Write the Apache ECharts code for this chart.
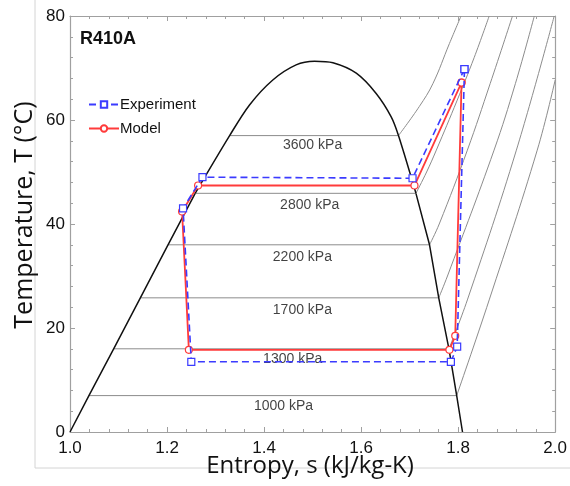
<!DOCTYPE html>
<html><head><meta charset="utf-8">
<script src="https://cdn.jsdelivr.net/npm/echarts@6/dist/echarts.min.js"></script>
<style>html,body{margin:0;padding:0;background:#fff}#c{width:570px;height:486px}</style>
</head><body><div id="c"></div>
<script>
// ---- Data (entropy s in kJ/kg-K, temperature T in °C) ----
// saturation dome: liquid side (straight), top arc (smooth), vapour side (straight)
const domeLiqS = [1.000, 1.039, 1.090, 1.145, 1.202, 1.258];
const domeLiqT = [0.0, 7.0, 16.0, 25.8, 36.0, 45.9];
const domeArcS = [1.258, 1.329, 1.370, 1.418, 1.466, 1.504, 1.542, 1.590, 1.631, 1.662, 1.677, 1.713];
const domeArcT = [45.9, 57.0, 62.9, 67.7, 70.6, 71.3, 71.0, 69.0, 65.1, 60.6, 57.0, 45.9];
const domeVapS = [1.713, 1.741, 1.760, 1.781, 1.797, 1.809];
const domeVapT = [45.9, 36.0, 25.8, 16.0, 7.0, 0.0];

const isobarLabels = ['3600 kPa', '2800 kPa', '2200 kPa', '1700 kPa', '1300 kPa', '1000 kPa'];
const isobarSatT = [57.0, 45.9, 36.0, 25.8, 16.0, 7.0];
const isobarLiqS = [1.329, 1.258, 1.202, 1.145, 1.090, 1.039];
const isobarVapS = [1.677, 1.713, 1.741, 1.760, 1.781, 1.797];
// superheated branches
const sh3600S = [1.677, 1.720, 1.748, 1.782, 1.806];
const sh3600T = [57.0, 62.6, 67.0, 74.7, 80.0];
const sh2800S = [1.713, 1.735, 1.755, 1.798, 1.833, 1.864];
const sh2800T = [45.9, 50.0, 54.2, 63.8, 72.0, 80.0];
const sh2200S = [1.741, 1.761, 1.819, 1.866, 1.912];
const sh2200T = [36.0, 40.0, 54.2, 67.0, 80.0];
const sh1700S = [1.760, 1.778, 1.874, 1.918, 1.957];
const sh1700T = [25.8, 30.0, 54.2, 67.0, 80.0];
const sh1300S = [1.781, 1.819, 1.920, 1.998];
const sh1300T = [16.0, 25.4, 54.2, 80.0];
const sh1000S = [1.797, 1.864, 1.963, 2.000];
const sh1000T = [7.0, 25.4, 54.2, 67.7];
// isobar label anchor positions
const labelS = [1.500, 1.494, 1.479, 1.479, 1.459, 1.440];
const labelT = [55.2, 43.6, 33.6, 23.4, 14.0, 4.9];

// cycle
const expS = [1.813, 1.706, 1.273, 1.233, 1.250, 1.785, 1.798, 1.813];
const expT = [69.8, 48.8, 49.0, 43.0, 13.5, 13.5, 16.4, 69.8];
const modS = [1.807, 1.710, 1.264, 1.231, 1.245, 1.782, 1.794, 1.807];
const modT = [67.2, 47.4, 47.4, 42.4, 15.8, 15.8, 18.5, 67.2];

const xTicks = {min: 1.0, max: 2.0, interval: 0.2};
const yTicks = {min: 0, max: 80, interval: 20};

// ---- Build ----
const zip = (a, b) => a.map((v, i) => [v, b[i]]);
const shS = [sh3600S, sh2800S, sh2200S, sh1700S, sh1300S, sh1000S];
const shT = [sh3600T, sh2800T, sh2200T, sh1700T, sh1300T, sh1000T];
const isoColor = '#8c8c8c';
const series = [];
isobarLabels.forEach((name, i) => {
  series.push({
    type: 'line', name: 'iso' + i, silent: true, symbol: 'none', z: 1,
    lineStyle: {color: isoColor, width: 1},
    data: [[isobarLiqS[i], isobarSatT[i]], [isobarVapS[i], isobarSatT[i]]]
  });
  series.push({
    type: 'line', name: 'sh' + i, silent: true, symbol: 'none', z: 1, smooth: 0.4,
    lineStyle: {color: isoColor, width: 1},
    data: zip(shS[i], shT[i])
  });
});
const domeStyle = {color: '#111', width: 1.5};
series.push({type: 'line', name: 'domeL', silent: true, symbol: 'none', z: 2,
  lineStyle: domeStyle, data: zip(domeLiqS, domeLiqT)});
series.push({type: 'line', name: 'domeA', silent: true, symbol: 'none', z: 2, smooth: 0.3,
  lineStyle: domeStyle, data: zip(domeArcS, domeArcT)});
series.push({type: 'line', name: 'domeV', silent: true, symbol: 'none', z: 2,
  lineStyle: domeStyle, data: zip(domeVapS, domeVapT)});
series.push({
  type: 'scatter', name: 'labels', silent: true, symbolSize: 0, z: 3,
  label: {show: true, position: 'inside', color: '#111', fontSize: 14, fontFamily: 'Liberation Sans',
    formatter: p => p.value[2]},
  data: labelS.map((s, i) => [s, labelT[i], isobarLabels[i]])
});
series.push({
  type: 'line', name: 'Model', z: 5,
  symbol: 'circle', symbolSize: 7, showAllSymbol: true,
  lineStyle: {color: '#ff3b3b', width: 1.8},
  itemStyle: {color: '#fff', borderColor: '#ff3b3b', borderWidth: 1.2},
  data: zip(modS, modT)
});
series.push({
  type: 'line', name: 'Experiment', z: 6,
  symbol: 'rect', symbolSize: 7, showAllSymbol: true,
  lineStyle: {color: '#3b3bff', width: 1.6, type: [7, 4]},
  itemStyle: {color: '#fff', borderColor: '#3b3bff', borderWidth: 1.2},
  data: zip(expS, expT)
});

const axisGray = '#a0a0a0';
const baseAxis = (extra) => Object.assign({
  type: 'value',
  axisLine: {show: true, onZero: false, lineStyle: {color: axisGray, width: 1.2}},
  axisTick: {show: true, inside: true, length: 5, lineStyle: {color: axisGray}},
  minorTick: {show: true, splitNumber: 5, length: 3, lineStyle: {color: axisGray}},
  splitLine: {show: false},
  minorSplitLine: {show: false}
}, extra);

const chart = echarts.init(document.getElementById('c'), null, {renderer: 'canvas'});
chart.setOption({
  animation: false,
  backgroundColor: '#fff',
  grid: {left: 70, right: 13.5, top: 16, bottom: 54, containLabel: false},
  xAxis: [
    baseAxis({min: xTicks.min, max: xTicks.max, interval: xTicks.interval, position: 'bottom',
      axisLabel: {color: '#111', fontSize: 17, fontFamily: 'Liberation Sans', margin: 8,
        formatter: v => v.toFixed(1)}}),
    baseAxis({min: xTicks.min, max: xTicks.max, interval: xTicks.interval, position: 'top',
      axisLabel: {show: false}})
  ],
  yAxis: [
    baseAxis({min: yTicks.min, max: yTicks.max, interval: yTicks.interval, position: 'left',
      axisLabel: {color: '#111', fontSize: 17, fontFamily: 'Liberation Sans', margin: 5}}),
    baseAxis({min: yTicks.min, max: yTicks.max, interval: yTicks.interval, position: 'right',
      axisLabel: {show: false}})
  ],
  legend: {
    data: ['Experiment', 'Model'], orient: 'vertical', left: 83, top: 92,
    itemWidth: 30, itemHeight: 8, itemGap: 9,
    textStyle: {color: '#111', fontSize: 15, fontFamily: 'Liberation Sans', padding: [0, 0, 0, -4]}
  },
  graphic: [
    {type: 'rect', silent: true, z: -10, shape: {x: 35, y: -5, width: 545, height: 473},
      style: {fill: 'none', stroke: '#d4d4d4', lineWidth: 1}},
    {type: 'text', x: 80, y: 39, style: {text: 'R410A', fill: '#111', fontSize: 18, fontWeight: 'bold',
      fontFamily: 'Liberation Sans', textVerticalAlign: 'middle'}},
    {type: 'text', x: 310, y: 466, style: {text: 'Entropy, s (kJ/kg-K)', fill: '#111', fontSize: 24,
      fontFamily: 'Open Sans', textAlign: 'center', textVerticalAlign: 'middle'}},
    {type: 'text', x: 25, y: 215, rotation: Math.PI / 2, style: {text: 'Temperature, T (°C)', fill: '#111',
      fontSize: 25, fontFamily: 'Open Sans', textAlign: 'center', textVerticalAlign: 'middle'}}
  ],
  series: series
});
</script></body></html>
